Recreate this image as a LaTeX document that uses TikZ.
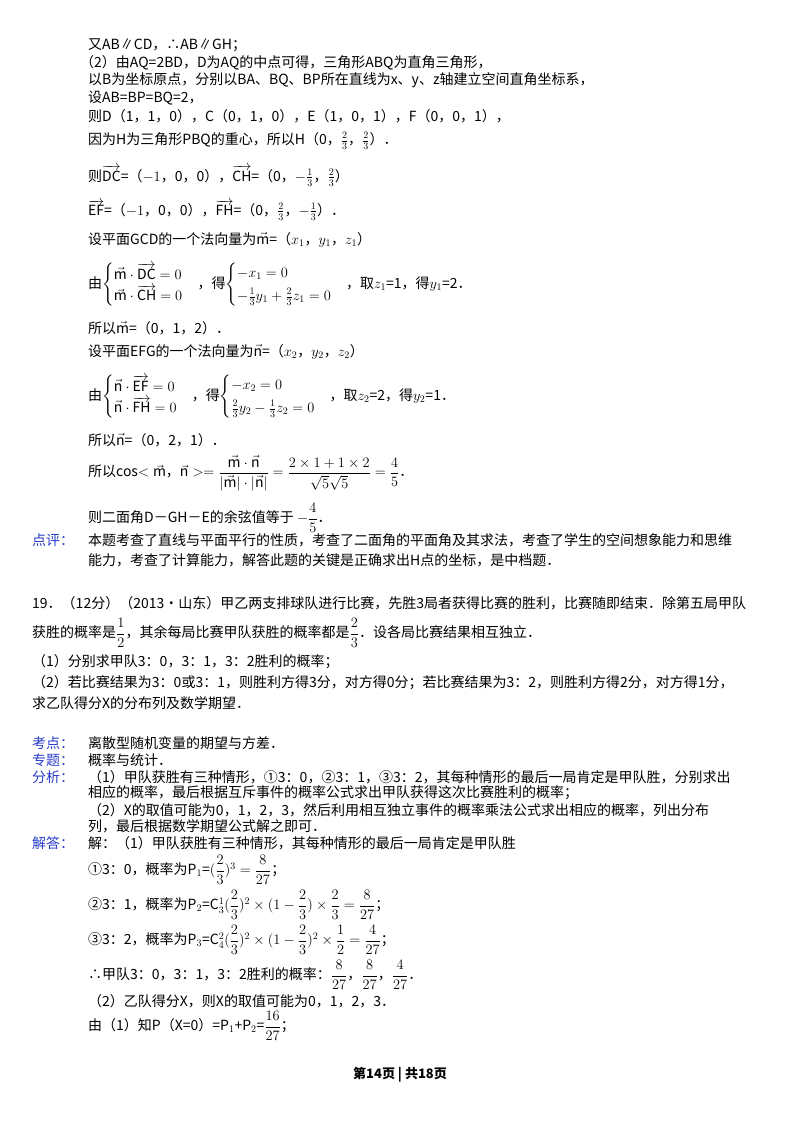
\documentclass[tikz,border=0pt]{standalone}
\usepackage{amsmath}
\usepackage{fontspec}
\setmainfont{Noto Sans CJK SC}
\definecolor{lab}{RGB}{40,60,200}
\tikzset{ln/.style={anchor=west,inner sep=0pt,font=\fontsize{14}{16}\selectfont},
lb/.style={ln,text=lab}}
\newcommand{\vv}[1]{\overrightarrow{\mathrm{#1}}}
\begin{document}
\begin{tikzpicture}[x=1pt,y=-1pt]
\useasboundingbox[fill=white] (0,0) rectangle (800,1132);
\node[ln] (l1) at (88,45) {又AB∥CD，∴AB∥GH；};
\node[ln] (l2) at (80,63) {（2）由AQ=2BD，D为AQ的中点可得，三角形ABQ为直角三角形，};
\node[ln] (l3) at (88,80) {以B为坐标原点，分别以BA、BQ、BP所在直线为x、y、z轴建立空间直角坐标系，};
\node[ln] (l4) at (88,98) {设AB=BP=BQ=2，};
\node[ln] (l5) at (88,116) {则D（1，1，0），C（0，1，0），E（1，0，1），F（0，0，1），};
\node[ln] (l6) at (88,141) {因为H为三角形PBQ的重心，所以H（0，$\frac{2}{3}$，$\frac{2}{3}$）．};
\node[ln] (l7) at (88,176) {则$\vv{DC}$=（$-1$，0，0），$\vv{CH}$=（0，$-\frac{1}{3}$，$\frac{2}{3}$）};
\node[ln] (l8) at (88,210) {$\vv{EF}$=（$-1$，0，0），$\vv{FH}$=（0，$\frac{2}{3}$，$-\frac{1}{3}$）．};
\node[ln] (l9) at (88,240) {设平面GCD的一个法向量为$\vec{\mathrm m}$=（$x_1$，$y_1$，$z_1$）};
\node[ln] (l10) at (88,285) {由$\begin{cases}\vec{\mathrm m}\cdot\vv{DC}=0\\ \vec{\mathrm m}\cdot\vv{CH}=0\end{cases}$，得$\begin{cases}-x_1=0\\[4pt] -\frac{1}{3}y_1+\frac{2}{3}z_1=0\end{cases}$，取$z_1$=1，得$y_1$=2．};
\node[ln] (l11) at (88,328) {所以$\vec{\mathrm m}$=（0，1，2）．};
\node[ln] (l12) at (88,352) {设平面EFG的一个法向量为$\vec{\mathrm n}$=（$x_2$，$y_2$，$z_2$）};
\node[ln] (l13) at (88,397) {由$\begin{cases}\vec{\mathrm n}\cdot\vv{EF}=0\\ \vec{\mathrm n}\cdot\vv{FH}=0\end{cases}$，得$\begin{cases}-x_2=0\\[4pt] \frac{2}{3}y_2-\frac{1}{3}z_2=0\end{cases}$，取$z_2$=2，得$y_2$=1．};
\node[ln] (l14) at (88,440) {所以$\vec{\mathrm n}$=（0，2，1）．};
\node[ln] (l15) at (88,473) {所以cos$<\vec{\mathrm m}$，$\vec{\mathrm n}>=\dfrac{\vec{\mathrm m}\cdot\vec{\mathrm n}}{|\vec{\mathrm m}|\cdot|\vec{\mathrm n}|}=\dfrac{2\times1+1\times2}{\sqrt5\sqrt5}=\dfrac{4}{5}$．};
\node[ln] (l16) at (88,518) {则二面角D－GH－E的余弦值等于 $-\dfrac{4}{5}$．};
\node[lb] (k1) at (32,540) {点评：};
\node[ln] (l17) at (88,540) {本题考查了直线与平面平行的性质，考查了二面角的平面角及其求法，考查了学生的空间想象能力和思维};
\node[ln] (l18) at (88,560) {能力，考查了计算能力，解答此题的关键是正确求出H点的坐标，是中档题．};
\node[ln] (l19) at (32,603) {19．（12分）（2013•山东）甲乙两支排球队进行比赛，先胜3局者获得比赛的胜利，比赛随即结束．除第五局甲队};
\node[ln] (l20) at (32,633) {获胜的概率是$\dfrac{1}{2}$，其余每局比赛甲队获胜的概率都是$\dfrac{2}{3}$．设各局比赛结果相互独立．};
\node[ln] (l21) at (32,662) {（1）分别求甲队3：0，3：1，3：2胜利的概率；};
\node[ln] (l22) at (32,683) {（2）若比赛结果为3：0或3：1，则胜利方得3分，对方得0分；若比赛结果为3：2，则胜利方得2分，对方得1分，};
\node[ln] (l23) at (32,703) {求乙队得分X的分布列及数学期望．};
\node[lb] (k2) at (32,743) {考点：};
\node[ln] (l24) at (88,743) {离散型随机变量的期望与方差．};
\node[lb] (k3) at (32,760) {专题：};
\node[ln] (l25) at (88,760) {概率与统计．};
\node[lb] (k4) at (32,777) {分析：};
\node[ln] (l26) at (88,777) {（1）甲队获胜有三种情形，①3：0，②3：1，③3：2，其每种情形的最后一局肯定是甲队胜，分别求出};
\node[ln] (l27) at (88,793) {相应的概率，最后根据互斥事件的概率公式求出甲队获得这次比赛胜利的概率；};
\node[ln] (l28) at (88,810) {（2）X的取值可能为0，1，2，3，然后利用相互独立事件的概率乘法公式求出相应的概率，列出分布};
\node[ln] (l29) at (88,826) {列，最后根据数学期望公式解之即可．};
\node[lb] (k5) at (32,843) {解答：};
\node[ln] (l30) at (88,843) {解：（1）甲队获胜有三种情形，其每种情形的最后一局肯定是甲队胜};
\node[ln] (l31) at (88,870) {①3：0，概率为P$_1$=$(\dfrac{2}{3})^3=\dfrac{8}{27}$；};
\node[ln] (l32) at (88,905) {②3：1，概率为P$_2$=C$_3^1(\dfrac{2}{3})^2\times(1-\dfrac{2}{3})\times\dfrac{2}{3}=\dfrac{8}{27}$；};
\node[ln] (l33) at (88,940) {③3：2，概率为P$_3$=C$_4^2(\dfrac{2}{3})^2\times(1-\dfrac{2}{3})^2\times\dfrac{1}{2}=\dfrac{4}{27}$；};
\node[ln] (l34) at (88,975) {∴甲队3：0，3：1，3：2胜利的概率：$\dfrac{8}{27}$，$\dfrac{8}{27}$，$\dfrac{4}{27}$．};
\node[ln] (l35) at (88,1001) {（2）乙队得分X，则X的取值可能为0，1，2，3．};
\node[ln] (l36) at (88,1026) {由（1）知P（X=0）=P$_1$+P$_2$=$\dfrac{16}{27}$；};
\node[ln,anchor=center,font=\fontsize{13}{15}\selectfont\bfseries] (ft) at (400,1075) {第14页 | 共18页};
\end{tikzpicture}
\end{document}
